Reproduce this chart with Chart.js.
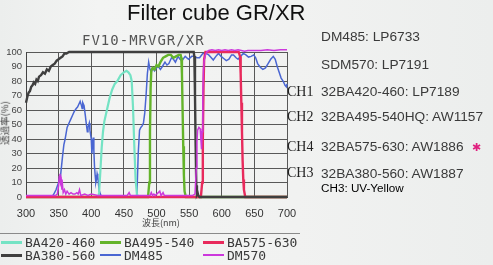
<!DOCTYPE html>
<html><head><meta charset="utf-8">
<script src="https://cdn.jsdelivr.net/npm/chart.js@4.4.1/dist/chart.umd.min.js"></script>
<style>
html,body{margin:0;padding:0;width:493px;height:265px;overflow:hidden;background:#eff1f0;}
#wrap{position:relative;width:493px;height:265px;background:linear-gradient(90deg,#eceeed 0%,#f3f4f3 20%,#f1f2f1 60%,#eceeed 100%);}
canvas{position:absolute;left:0;top:0;}
.t{position:absolute;white-space:nowrap;line-height:1;}
.sans{font-family:'Liberation Sans',Arial,sans-serif;}
.serif{font-family:'Liberation Serif','Times New Roman',serif;}
.mono{font-family:'DejaVu Sans Mono',monospace;}
.cjk{font-family:'Noto Sans CJK JP','Noto Sans CJK SC',sans-serif;}
.sw{position:absolute;height:3px;}
</style></head><body>
<div id="wrap">
<canvas id="c" width="493" height="265"></canvas>
<div class="t sans" style="left:127px;top:2px;font-size:22px;color:#111;">Filter cube GR/XR</div>
<div class="t mono" style="left:82px;top:33px;font-size:14px;letter-spacing:1px;color:#555;">FV10-MRVGR/XR</div>
<div class="t sans" style="left:321px;top:30px;font-size:13.7px;color:#3a3a3a;">DM485: LP6733</div>
<div class="t sans" style="left:321px;top:57.6px;font-size:13.7px;color:#3a3a3a;">SDM570: LP7191</div>
<div class="t serif" style="left:287px;top:84.6px;font-size:14px;color:#222;">CH1</div>
<div class="t sans" style="left:321px;top:85px;font-size:13.7px;color:#3a3a3a;">32BA420-460: LP7189</div>
<div class="t serif" style="left:287px;top:109.6px;font-size:14px;color:#222;">CH2</div>
<div class="t sans" style="left:321px;top:110px;font-size:13.7px;color:#3a3a3a;">32BA495-540HQ: AW1157</div>
<div class="t serif" style="left:287px;top:139.6px;font-size:14px;color:#222;">CH4</div>
<div class="t sans" style="left:321px;top:140px;font-size:13.7px;color:#3a3a3a;">32BA575-630: AW1886</div>
<div class="t sans" style="left:472px;top:142px;font-size:11px;color:#e0207f;">✱</div>
<div class="t serif" style="left:287px;top:166.2px;font-size:14px;color:#222;">CH3</div>
<div class="t sans" style="left:321px;top:166.6px;font-size:13.7px;color:#3a3a3a;">32BA380-560: AW1887</div>
<div class="t sans" style="left:321px;top:182px;font-size:11.7px;color:#000;">CH3: UV-Yellow</div>
<div class="t cjk" style="left:142px;top:218px;font-size:9px;color:#444;">波長(nm)</div>
<div class="t cjk" style="left:4.5px;top:123px;font-size:9.5px;color:#444;transform:translate(-50%,-50%) rotate(-90deg);transform-origin:center;">透過率(%)</div>
<div style="position:absolute;left:0;top:233px;width:300px;height:1px;background:#8a8a8a;"></div>
<div id="legend"></div>
</div>
<script>
// ---- data ----
const xTicksNm = [300,350,400,450,500,550,600,650,700];
const yTicksPct = [0,10,20,30,40,50,60,70,80,90,100];

const ba420Wl = [300,411,412,414,416,418,420,424,428,432,436,440,445,450,454,457,460,462,464,466,468,470,472,700];
const ba420T  = [0,0,3,18,34,45,52,60,68,74,78,80,84,86,87,86,84,80,62,35,12,2,0,0];

const ba495Wl = [300,487,489,490,491,492,494,497,500,503,506,510,514,518,522,526,530,534,537,538,539,540,541,542,543,545,700];
const ba495T  = [0,0,10,45,75,87,89,88,91,90,93,96,97,98,98,96,97,98,98,96,85,60,35,15,4,0,0];

const ba575Wl = [300,568,570,571,572,573,575,600,626,628,629,630,631,632,633,634,636,700];
const ba575T  = [0,0,10,40,75,95,100,100,100,97,85,65,45,25,12,5,0,0];

const ba380Wl = [300,302,304,306,308,310,312,314,316,318,320,323,326,329,332,335,338,341,344,347,350,353,356,359,362,366,370,400,450,500,550,557,558,559,560,561,562,563,564,566,600,650,700];
const ba380T  = [65,69,72,73,76,77,79,78,81,80,83,84,86,85,88,87,90,91,92,94,95,96,97,99,99,100,100,100,100,100,100,100,97,70,35,8,2,3,1,0,0,0,0];

const dm485Wl = [300,338,342,346,350,353,356,358,360,363,366,368,371,374,377,379,381,383,385,386,387,389,391,392,394,395,397,398,400,401,402,403,404,405,406,407,408,409,410,412,414,416,468,470,472,474,476,478,480,482,484,486,488,490,492,494,497,500,503,506,509,513,516,519,523,526,529,533,536,539,544,549,554,558,562,566,571,576,580,584,587,591,595,599,603,607,611,615,618,622,625,629,633,637,641,645,649,652,655,659,663,667,671,675,679,682,685,688,691,694,697,699,700];
const dm485T  = [0,0,1.5,5,10,15,28,36,40,48,51,53,56,59,61,62,64,66,63,61,65,63,56,52,45,48,51,46,40,30,36,41,32,21,15,10,12,16,14,5,2,0,0,2,30,46,48,49,51,58,70,85,93,88,86,89,87,89,90,88,90,93,91,92,96,95,93,97,95,94,97,95,97,97,96,96,99,99,98,96,94.5,97,99,97,95.5,94,95,98,98,96,95,97,99,98,96.5,97,98,96,92,89.5,88,89,92,95,97,95,90,86,82,80,77,76,78];

const dm570Wl = [300,340,345,348,350,351,352,353,354,355,356,357,359,361,363,366,369,372,375,378,380,382,384,390,395,400,410,430,445,455,458,460,480,490,492,494,496,498,505,507,510,512,540,555,559,561,562,563,565,567,568,569,570,571,572,573,575,577,580,585,590,595,600,605,610,615,620,625,630,635,640,650,660,670,680,690,700];
const dm570T  = [1,1,1,2,8,14,16,10,12,5,8,3,5,2,4,2,3,2,2,3,2,5,1,2,1,2,1,1,1,1,3,1,1,1,3,1,2,1,4,1,3,1,1,1,2,20,38,46,48,47,40,33,45,70,88,94,98,100,101,101.5,101,101.5,101,101.5,101,101.5,101,101.5,101,100.5,101,101,101,101.5,101,101.5,101.5];

const seriesLabels = ['BA420-460','BA495-540','BA575-630','BA380-560','DM485','DM570'];
// ----------------------------------------

const pts = (wl, t) => wl.map((x, i) => ({x, y: t[i]}));
const styles = [
  {color:'#74e3c4', w:2.2, order:4},
  {color:'#64b42a', w:2.4, order:3},
  {color:'#e82a5c', w:2.4, order:2},
  {color:'#3f3f3f', w:2.4, order:1},
  {color:'#4a66d2', w:1.5, order:5},
  {color:'#cc38dc', w:1.5, order:0}
];
const dataArrs = [[ba420Wl,ba420T],[ba495Wl,ba495T],[ba575Wl,ba575T],[ba380Wl,ba380T],[dm485Wl,dm485T],[dm570Wl,dm570T]];
const datasets = seriesLabels.map((lab, i) => ({
  label: lab,
  data: pts(dataArrs[i][0], dataArrs[i][1]),
  borderColor: styles[i].color,
  borderWidth: styles[i].w,
  order: styles[i].order,
  pointRadius: 0,
  fill: false,
  tension: 0,
  clip: 6
}));

new Chart(document.getElementById('c').getContext('2d'), {
  type: 'line',
  data: {datasets},
  options: {
    responsive: false, animation: false, devicePixelRatio: 1,
    layout: {padding: {left: 0, top: 52, right: 206, bottom: 38}},
    plugins: {legend: {display: false}, tooltip: {enabled: false}},
    scales: {
      x: {
        type: 'linear', min: xTicksNm[0], max: xTicksNm[xTicksNm.length-1],
        afterBuildTicks: s => { s.ticks = xTicksNm.map(v => ({value: v})); },
        ticks: {font: {size: 11, family: "'Liberation Sans',Arial,sans-serif"}, color: '#333', padding: 10, maxRotation: 0, autoSkip: false},
        grid: {color: '#585858', lineWidth: 1, drawTicks: false},
        border: {color: '#444', width: 1},
        afterFit: s => { s.height = 30; }
      },
      y: {
        min: yTicksPct[0], max: yTicksPct[yTicksPct.length-1],
        afterBuildTicks: s => { s.ticks = yTicksPct.map(v => ({value: v})); },
        ticks: {font: {size: 9.5, family: "'Liberation Sans',Arial,sans-serif"}, color: '#444', padding: 4},
        grid: {color: '#585858', lineWidth: 1, drawTicks: false},
        border: {color: '#444', width: 1},
        afterFit: s => { s.width = 26; }
      }
    }
  }
});

// HTML legend built from the datasets
const leg = document.getElementById('legend');
const colX = [0, 99, 202];
const rowY = [242, 255];
datasets.forEach((d, i) => {
  const col = i % 3, row = Math.floor(i / 3);
  const sw = document.createElement('div');
  sw.className = 'sw';
  const thick = d.borderWidth > 2 ? 3 : 1.6;
  sw.style.cssText = `left:${colX[col]+1}px;top:${rowY[row]-thick/2}px;width:21px;height:${thick}px;background:${d.borderColor};`;
  leg.appendChild(sw);
  const tx = document.createElement('div');
  tx.className = 't mono';
  tx.style.cssText = `left:${colX[col]+25}px;top:${rowY[row]-6.3}px;font-size:13px;color:#3a3a3a;`;
  tx.textContent = d.label;
  leg.appendChild(tx);
});
</script>
</body></html>
